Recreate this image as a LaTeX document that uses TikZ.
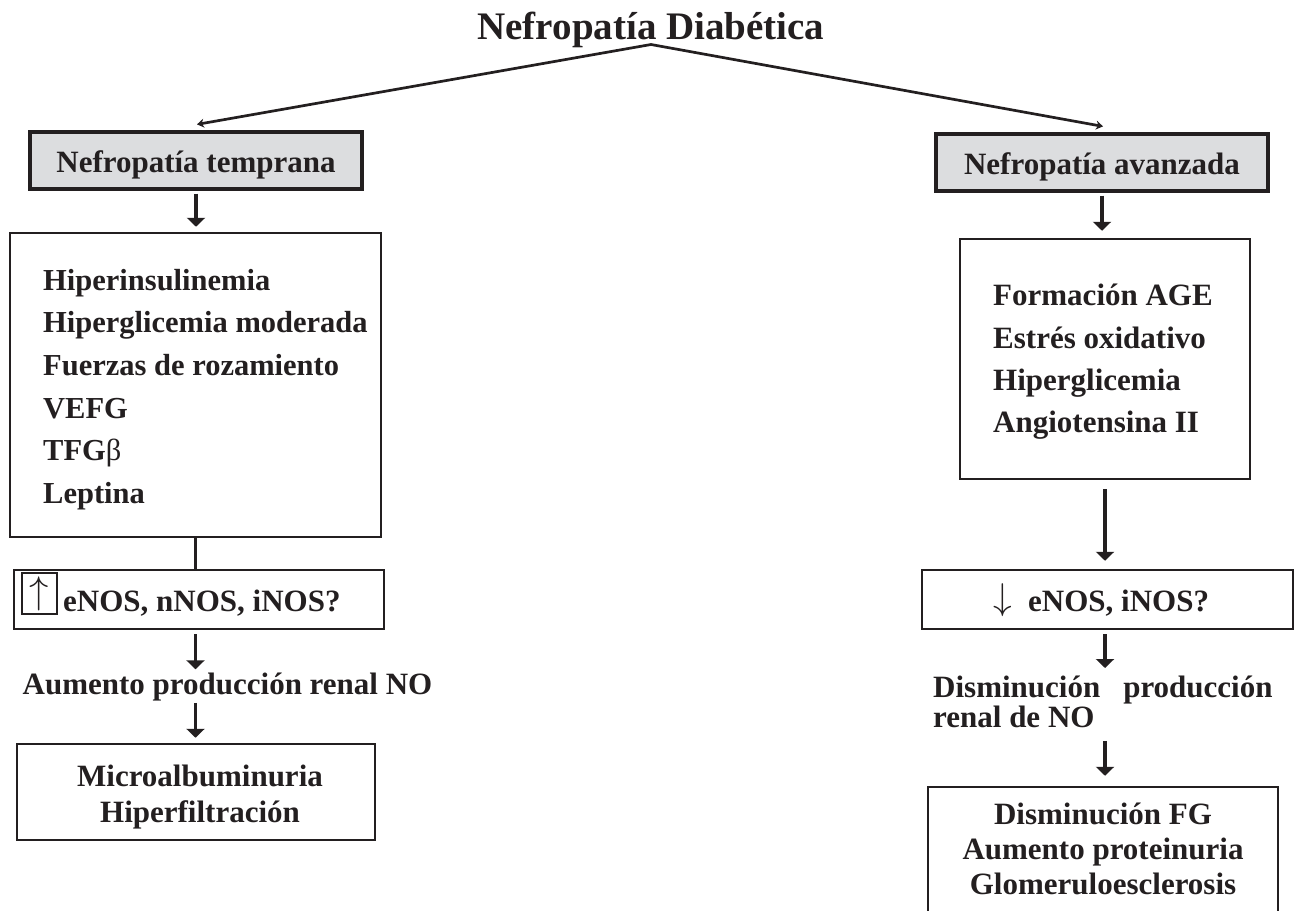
\documentclass[tikz,border=0pt]{standalone}
\usepackage{fontspec}
\setmainfont{Liberation Serif}
\usepackage{graphicx}
\usetikzlibrary{arrows.meta}
\definecolor{ink}{HTML}{231F20}
\definecolor{greyfill}{HTML}{DCDDDF}
\begin{document}
\begin{tikzpicture}[x=1pt,y=-1pt,
  every node/.style={text=ink, inner sep=0pt},
  tx/.style={font=\fontsize{31}{36}\selectfont\bfseries},
  rbox/.style={draw=ink, line width=2.5pt, fill=white},
  greybox/.style={draw=ink, line width=3.2pt, fill=greyfill, minimum width=332pt, minimum height=57pt, font=\fontsize{31}{36}\selectfont\bfseries, text height=29pt, text depth=6pt},
  varrow/.style={draw=ink, line width=3.5pt, -{Triangle[width=18pt,length=9pt]}},
  plainline/.style={draw=ink, line width=3.5pt},
  slant/.style={draw=ink, line width=2.7pt, -{Stealth[width=9pt,length=7pt]}},
  symb/.style={font=\fontsize{24.88}{30}\selectfont}
]
\clip (0,0) rectangle (1295,910);
\fill[white] (0,0) rectangle (1295,910);

% title
\node[font=\fontsize{39}{42}\selectfont\bfseries, anchor=base] (title) at (651,39) {Nefropatía Diabética};

% headers
\node[greybox] (earlyH) at (196,160.5) {Nefropatía temprana};
\node[greybox] (advH) at (1102,162.5) {Nefropatía avanzada};

% left factors
\node[rbox, minimum width=371pt, minimum height=304pt] (earlyF) at (195.5,385) {};
\node[font=\fontsize{30.5}{42.6}\selectfont\bfseries, align=left, anchor=north west] (earlyT) at (43,269)
  {Hiperinsulinemia\\Hiperglicemia moderada\\Fuerzas de rozamiento\\VEFG\\TFG{\mdseries β}\\Leptina};

% right factors
\node[rbox, minimum width=290pt, minimum height=240pt] (advF) at (1105,359) {};
\node[font=\fontsize{31}{42.3}\selectfont\bfseries, align=left, anchor=north west] (advT) at (993,284)
  {Formación AGE\\Estrés oxidativo\\Hiperglicemia\\Angiotensina II};

% left NOS
\node[rbox, minimum width=370pt, minimum height=59pt] (enosL) at (199,599.5) {};
\node[draw=ink, line width=2pt, minimum width=35pt, minimum height=41pt, symb] (upbox) at (39.5,593.5) {\scalebox{1.55}{$\uparrow$}};
\node[tx, anchor=base west] (enosLT) at (63,611) {eNOS, nNOS, iNOS?};

% right NOS
\node[rbox, minimum width=371pt, minimum height=59pt] (enosR) at (1107.5,599.5) {};
\node[symb] (downsym) at (1003,600) {\scalebox{1.5}{$\downarrow$}};
\node[tx, anchor=base west] (enosRT) at (1028,611) {eNOS, iNOS?};

% left production
\node[tx, anchor=base] (aum) at (227.5,694) {Aumento producción renal NO};
\node[rbox, minimum width=358pt, minimum height=96pt] (micro) at (196,792) {};
\node[font=\fontsize{31}{36}\selectfont\bfseries, align=center, anchor=north] (microT) at (200,765)
  {Microalbuminuria\\Hiperfiltración};

% right production
\node[font=\fontsize{31}{29.5}\selectfont\bfseries, align=left, anchor=north west] (dism) at (933,676)
  {Disminución\hspace{23pt}producción\\renal de NO};
\node[rbox, minimum width=350pt, minimum height=148pt] (resR) at (1103,861) {};
\node[font=\fontsize{31}{35}\selectfont\bfseries, align=center, anchor=north] (resT) at (1103,803)
  {Disminución FG\\Aumento proteinuria\\Glomeruloesclerosis};

% connectors
\draw[slant] ([yshift=3pt]title.south) -- ([xshift=1pt,yshift=6pt]earlyH.north);
\draw[slant] ([yshift=3pt]title.south) -- ([xshift=1pt,yshift=6pt]advH.north);

\draw[varrow] ([yshift=-3pt]earlyH.south) -- ([yshift=5pt]earlyH.south |- earlyF.north);
\draw[plainline] (earlyF.south) -- (earlyF.south |- enosL.north);
\draw[varrow] ([yshift=-4pt]earlyF.south |- enosL.south) -- ([yshift=3pt]earlyF.south |- aum.north);
\draw[varrow] ([yshift=-2pt]earlyF.south |- aum.south) -- ([yshift=5pt]earlyF.south |- micro.north);

\draw[varrow] ([yshift=-3pt]advH.south) -- ([yshift=7pt]advH.south |- advF.north);
\draw[varrow] ([yshift=-9pt]advF.south) -- ([yshift=8pt]advF.south |- enosR.north);
\draw[varrow] ([yshift=-4pt]advF.south |- enosR.south) -- ([yshift=8pt]advF.south |- dism.north);
\draw[varrow] ([yshift=-13pt]advF.south |- dism.south) -- ([yshift=10pt]advF.south |- resR.north);
\end{tikzpicture}
\end{document}
